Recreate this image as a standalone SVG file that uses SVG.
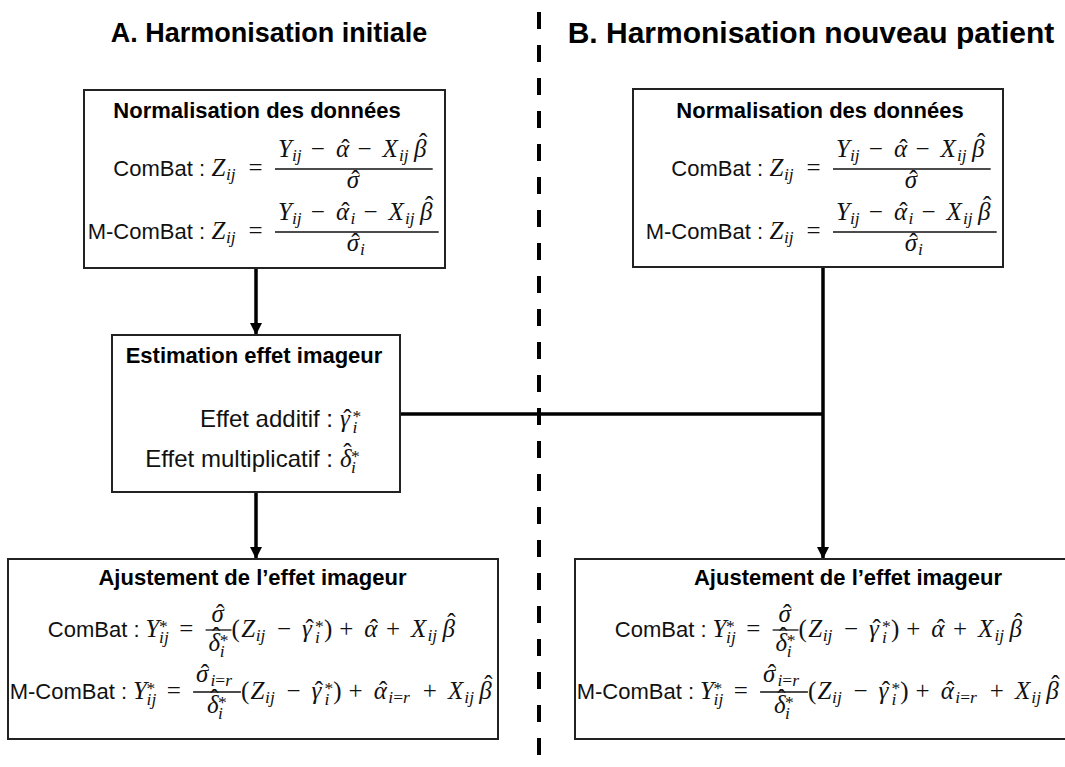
<svg xmlns="http://www.w3.org/2000/svg" width="1065" height="767" viewBox="0 0 1065 767">
<defs>
<marker id="arr" markerUnits="userSpaceOnUse" markerWidth="12" markerHeight="14" refX="11" refY="6" orient="auto">
<path d="M0,0 L12,6 L0,12 Z" fill="#000"/>
</marker>
<style>
.box{fill:#fff;stroke:#222;stroke-width:2}
.head{font-family:"Liberation Sans",Arial,sans-serif;font-weight:bold;font-size:27px;fill:#000}
.headb{font-family:"Liberation Sans",Arial,sans-serif;font-weight:bold;font-size:30px;fill:#000}
.title{font-family:"Liberation Sans",Arial,sans-serif;font-weight:bold;font-size:22px;fill:#000}
.lab{font-family:"Liberation Sans",Arial,sans-serif;font-size:22px;fill:#111}
.lab2{font-family:"Liberation Sans",Arial,sans-serif;font-size:24px;fill:#111}
.m{font-family:"Liberation Serif","DejaVu Serif",serif;font-style:italic;font-size:25px;fill:#111}
.o{font-style:normal}
.s{font-size:17.5px}
.h{font-family:"Liberation Serif","DejaVu Serif",serif;font-size:25px;fill:#111;text-anchor:middle}
.frac{stroke:#111;stroke-width:1.3}
.conn{stroke:#000;stroke-width:3.5;fill:none}
.dash{stroke:#000;stroke-width:4;stroke-dasharray:17 16;fill:none}
</style>
</defs>
<rect width="1065" height="767" fill="#fff"/>

<text class="head" x="269" y="42" text-anchor="middle">A. Harmonisation initiale</text>
<text class="headb" x="811" y="43" text-anchor="middle">B. Harmonisation nouveau patient</text>

<g id="connectors">
<line class="dash" x1="539" y1="12" x2="539" y2="767"/>
<line class="conn" x1="256" y1="268" x2="256" y2="334" marker-end="url(#arr)"/>
<line class="conn" x1="256" y1="492" x2="256" y2="558" marker-end="url(#arr)"/>
<line class="conn" x1="400" y1="414" x2="823" y2="414"/>
<line class="conn" x1="823" y1="267" x2="823" y2="558" marker-end="url(#arr)"/>
</g>

<g id="norm-A">
<rect class="box" x="84" y="90" width="361" height="178"/>
<text class="title" x="257" y="118" text-anchor="middle">Normalisation des données</text>
<text class="lab" x="205" y="176" text-anchor="end">ComBat :</text>
<text class="m" y="176"><tspan x="211.5">Z</tspan><tspan class="s" x="226" y="180">ij</tspan><tspan class="o" x="248.6" y="176">=</tspan></text>
<line class="frac" x1="275" y1="169" x2="432.7" y2="169"/>
<text class="m" y="157"><tspan x="278">Y</tspan><tspan class="s" x="292" y="161">ij</tspan><tspan class="o" x="310.8" y="157">−</tspan><tspan x="335.9">α</tspan><tspan class="o" x="357.5">−</tspan><tspan x="382.6">X</tspan><tspan class="s" x="399" y="161">ij</tspan><tspan x="414" y="157">β</tspan></text>
<text class="h" x="345.4" y="157">ˆ</text><text class="h" x="423.1" y="151">ˆ</text>
<text class="m" x="346.7" y="188">σ</text><text class="h" x="355.4" y="188">ˆ</text>
<text class="lab" x="205" y="239" text-anchor="end">M-ComBat :</text>
<text class="m" y="239"><tspan x="211.5">Z</tspan><tspan class="s" x="226" y="243">ij</tspan><tspan class="o" x="248.6" y="239">=</tspan></text>
<line class="frac" x1="275" y1="232" x2="438.7" y2="232"/>
<text class="m" y="220"><tspan x="278">Y</tspan><tspan class="s" x="292" y="224">ij</tspan><tspan class="o" x="310.8" y="220">−</tspan><tspan x="335.9">α</tspan><tspan class="s" x="350.5" y="224">i</tspan><tspan class="o" x="363.5" y="220">−</tspan><tspan x="388.6">X</tspan><tspan class="s" x="405" y="224">ij</tspan><tspan x="420" y="220">β</tspan></text>
<text class="h" x="345.4" y="220">ˆ</text><text class="h" x="429.1" y="214">ˆ</text>
<text class="m" y="251"><tspan x="346.7">σ</tspan><tspan class="s" x="360" y="255">i</tspan></text><text class="h" x="355.4" y="251">ˆ</text>
</g>

<g id="norm-B">
<rect class="box" x="633" y="89" width="370" height="178"/>
<text class="title" x="820" y="118" text-anchor="middle">Normalisation des données</text>
<g transform="translate(558,0)">
<text class="lab" x="205" y="176" text-anchor="end">ComBat :</text>
<text class="m" y="176"><tspan x="211.5">Z</tspan><tspan class="s" x="226" y="180">ij</tspan><tspan class="o" x="248.6" y="176">=</tspan></text>
<line class="frac" x1="275" y1="169" x2="432.7" y2="169"/>
<text class="m" y="157"><tspan x="278">Y</tspan><tspan class="s" x="292" y="161">ij</tspan><tspan class="o" x="310.8" y="157">−</tspan><tspan x="335.9">α</tspan><tspan class="o" x="357.5">−</tspan><tspan x="382.6">X</tspan><tspan class="s" x="399" y="161">ij</tspan><tspan x="414" y="157">β</tspan></text>
<text class="h" x="345.4" y="157">ˆ</text><text class="h" x="423.1" y="151">ˆ</text>
<text class="m" x="346.7" y="188">σ</text><text class="h" x="355.4" y="188">ˆ</text>
<text class="lab" x="205" y="239" text-anchor="end">M-ComBat :</text>
<text class="m" y="239"><tspan x="211.5">Z</tspan><tspan class="s" x="226" y="243">ij</tspan><tspan class="o" x="248.6" y="239">=</tspan></text>
<line class="frac" x1="275" y1="232" x2="438.7" y2="232"/>
<text class="m" y="220"><tspan x="278">Y</tspan><tspan class="s" x="292" y="224">ij</tspan><tspan class="o" x="310.8" y="220">−</tspan><tspan x="335.9">α</tspan><tspan class="s" x="350.5" y="224">i</tspan><tspan class="o" x="363.5" y="220">−</tspan><tspan x="388.6">X</tspan><tspan class="s" x="405" y="224">ij</tspan><tspan x="420" y="220">β</tspan></text>
<text class="h" x="345.4" y="220">ˆ</text><text class="h" x="429.1" y="214">ˆ</text>
<text class="m" y="251"><tspan x="346.7">σ</tspan><tspan class="s" x="360" y="255">i</tspan></text><text class="h" x="355.4" y="251">ˆ</text>
</g>
</g>

<g id="estimation">
<rect class="box" x="112" y="335" width="288" height="157"/>
<text class="title" x="254" y="363" text-anchor="middle">Estimation effet imageur</text>
<text class="lab2" x="333" y="427" text-anchor="end">Effet additif :</text>
<text class="m" y="427"><tspan x="340">γ</tspan><tspan class="s o" x="352.5" y="422">*</tspan><tspan class="s" x="352.5" y="433">i</tspan></text><text class="h" x="347.5" y="427">ˆ</text>
<text class="lab2" x="333" y="467" text-anchor="end">Effet multiplicatif :</text>
<text class="m" y="467"><tspan x="340">δ</tspan><tspan class="s o" x="351" y="462">*</tspan><tspan class="s" x="351" y="473">i</tspan></text><text class="h" x="347.5" y="461">ˆ</text>
</g>

<g id="ajust-A">
<rect class="box" x="8" y="559" width="490" height="180"/>
<text class="title" x="252.5" y="585" text-anchor="middle">Ajustement de l’effet imageur</text>
<g id="ajA-l1">
<text class="lab" x="139.5" y="637" text-anchor="end">ComBat :</text>
<text class="m" y="637"><tspan x="145.5">Y</tspan><tspan class="s o" x="159.1" y="632">*</tspan><tspan class="s" x="159.1" y="643">ij</tspan><tspan class="o" x="179.2" y="637">=</tspan></text>
<line class="frac" x1="205.6" y1="630" x2="231.5" y2="630"/>
<text class="m" x="211.4" y="622">σ</text><text class="h" x="220.1" y="622">ˆ</text>
<text class="m" y="651"><tspan x="208.6">δ</tspan><tspan class="s o" x="219.7" y="646">*</tspan><tspan class="s" x="219.7" y="657">i</tspan></text><text class="h" x="216.1" y="645">ˆ</text>
<text class="m" y="637"><tspan class="o" x="231.5">(</tspan><tspan x="241.2">Z</tspan><tspan class="s" x="255.7" y="641">ij</tspan><tspan class="o" x="277" y="637">−</tspan><tspan x="302.1">γ</tspan><tspan class="s o" x="315.1" y="632">*</tspan><tspan class="s" x="315.1" y="643">i</tspan><tspan class="o" x="323.9" y="637">)</tspan><tspan class="o" x="339.2">+</tspan><tspan x="364.3">α</tspan><tspan class="o" x="385.9">+</tspan><tspan x="411">X</tspan><tspan class="s" x="427.4" y="641">ij</tspan><tspan x="442.4" y="637">β</tspan></text>
<text class="h" x="309.6" y="637">ˆ</text><text class="h" x="373.8" y="637">ˆ</text><text class="h" x="451.5" y="631">ˆ</text>
</g>
<g id="ajA-l2">
<text class="lab" x="127" y="699" text-anchor="end">M-ComBat :</text>
<text class="m" y="699"><tspan x="133">Y</tspan><tspan class="s o" x="146.6" y="694">*</tspan><tspan class="s" x="146.6" y="705">ij</tspan><tspan class="o" x="166.7" y="699">=</tspan></text>
<line class="frac" x1="193.1" y1="692" x2="240.9" y2="692"/>
<text class="m" y="682"><tspan x="196.1">σ</tspan><tspan class="s" x="210.4" y="686">i</tspan><tspan class="s o">=</tspan><tspan class="s">r</tspan></text><text class="h" x="204.8" y="682">ˆ</text>
<text class="m" y="713"><tspan x="207">δ</tspan><tspan class="s o" x="218.1" y="708">*</tspan><tspan class="s" x="218.1" y="719">i</tspan></text><text class="h" x="214.5" y="707">ˆ</text>
<text class="m" y="699"><tspan class="o" x="240.9">(</tspan><tspan x="250.6">Z</tspan><tspan class="s" x="265.1" y="703">ij</tspan><tspan class="o" x="286.4" y="699">−</tspan><tspan x="311.5">γ</tspan><tspan class="s o" x="324.5" y="694">*</tspan><tspan class="s" x="324.5" y="705">i</tspan><tspan class="o" x="333.3" y="699">)</tspan><tspan class="o" x="348.6">+</tspan><tspan x="373.7">α</tspan><tspan class="s" x="388.3" y="703">i</tspan><tspan class="s o">=</tspan><tspan class="s">r</tspan><tspan class="o" x="422.8" y="699">+</tspan><tspan x="447.9">X</tspan><tspan class="s" x="464.3" y="703">ij</tspan><tspan x="479.3" y="699">β</tspan></text>
<text class="h" x="319" y="699">ˆ</text><text class="h" x="383.2" y="699">ˆ</text><text class="h" x="488.4" y="693">ˆ</text>
</g>
</g>

<g id="ajust-B">
<rect class="box" x="575" y="559" width="546" height="180"/>
<text class="title" x="848" y="585" text-anchor="middle">Ajustement de l’effet imageur</text>
<g transform="translate(567,0)">
<text class="lab" x="139.5" y="637" text-anchor="end">ComBat :</text>
<text class="m" y="637"><tspan x="145.5">Y</tspan><tspan class="s o" x="159.1" y="632">*</tspan><tspan class="s" x="159.1" y="643">ij</tspan><tspan class="o" x="179.2" y="637">=</tspan></text>
<line class="frac" x1="205.6" y1="630" x2="231.5" y2="630"/>
<text class="m" x="211.4" y="622">σ</text><text class="h" x="220.1" y="622">ˆ</text>
<text class="m" y="651"><tspan x="208.6">δ</tspan><tspan class="s o" x="219.7" y="646">*</tspan><tspan class="s" x="219.7" y="657">i</tspan></text><text class="h" x="216.1" y="645">ˆ</text>
<text class="m" y="637"><tspan class="o" x="231.5">(</tspan><tspan x="241.2">Z</tspan><tspan class="s" x="255.7" y="641">ij</tspan><tspan class="o" x="277" y="637">−</tspan><tspan x="302.1">γ</tspan><tspan class="s o" x="315.1" y="632">*</tspan><tspan class="s" x="315.1" y="643">i</tspan><tspan class="o" x="323.9" y="637">)</tspan><tspan class="o" x="339.2">+</tspan><tspan x="364.3">α</tspan><tspan class="o" x="385.9">+</tspan><tspan x="411">X</tspan><tspan class="s" x="427.4" y="641">ij</tspan><tspan x="442.4" y="637">β</tspan></text>
<text class="h" x="309.6" y="637">ˆ</text><text class="h" x="373.8" y="637">ˆ</text><text class="h" x="451.5" y="631">ˆ</text>
<text class="lab" x="127" y="699" text-anchor="end">M-ComBat :</text>
<text class="m" y="699"><tspan x="133">Y</tspan><tspan class="s o" x="146.6" y="694">*</tspan><tspan class="s" x="146.6" y="705">ij</tspan><tspan class="o" x="166.7" y="699">=</tspan></text>
<line class="frac" x1="193.1" y1="692" x2="240.9" y2="692"/>
<text class="m" y="682"><tspan x="196.1">σ</tspan><tspan class="s" x="210.4" y="686">i</tspan><tspan class="s o">=</tspan><tspan class="s">r</tspan></text><text class="h" x="204.8" y="682">ˆ</text>
<text class="m" y="713"><tspan x="207">δ</tspan><tspan class="s o" x="218.1" y="708">*</tspan><tspan class="s" x="218.1" y="719">i</tspan></text><text class="h" x="214.5" y="707">ˆ</text>
<text class="m" y="699"><tspan class="o" x="240.9">(</tspan><tspan x="250.6">Z</tspan><tspan class="s" x="265.1" y="703">ij</tspan><tspan class="o" x="286.4" y="699">−</tspan><tspan x="311.5">γ</tspan><tspan class="s o" x="324.5" y="694">*</tspan><tspan class="s" x="324.5" y="705">i</tspan><tspan class="o" x="333.3" y="699">)</tspan><tspan class="o" x="348.6">+</tspan><tspan x="373.7">α</tspan><tspan class="s" x="388.3" y="703">i</tspan><tspan class="s o">=</tspan><tspan class="s">r</tspan><tspan class="o" x="422.8" y="699">+</tspan><tspan x="447.9">X</tspan><tspan class="s" x="464.3" y="703">ij</tspan><tspan x="479.3" y="699">β</tspan></text>
<text class="h" x="319" y="699">ˆ</text><text class="h" x="383.2" y="699">ˆ</text><text class="h" x="488.4" y="693">ˆ</text>
</g>
</g>
</svg>
